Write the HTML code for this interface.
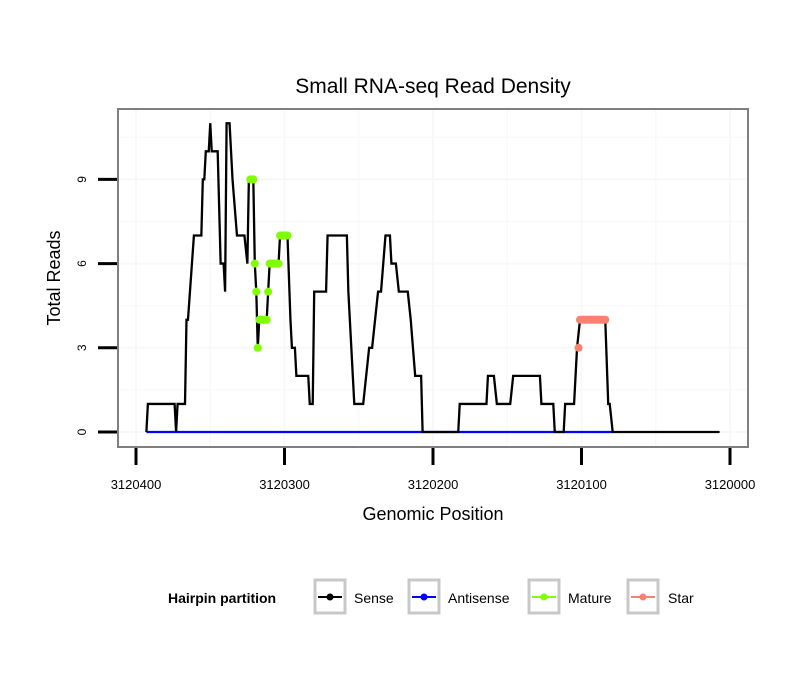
<!DOCTYPE html>
<html><head><meta charset="utf-8"><style>
body{margin:0;background:#fff;font-family:"Liberation Sans",sans-serif;}
</style></head><body>
<svg id="chart" width="810" height="690" xmlns="http://www.w3.org/2000/svg" font-family="Liberation Sans, sans-serif">
<rect width="810" height="690" fill="#fff"/>
<text x="433" y="93" font-size="21" text-anchor="middle">Small RNA-seq Read Density</text>
<g id="grid"></g>
<g id="series"></g>
<rect x="118" y="109" width="630" height="338" fill="none" stroke="#7f7f7f" stroke-width="2"/>
<g id="axes"></g>
<text x="433" y="520" font-size="18" text-anchor="middle">Genomic Position</text>
<text transform="translate(60,278) rotate(-90)" font-size="18" text-anchor="middle">Total Reads</text>
<g>
<text x="168" y="603" font-size="14" font-weight="bold">Hairpin partition</text>
<g><rect x="315" y="580" width="30" height="33" fill="#fff" stroke="#c8c8c8" stroke-width="3"/><line x1="318" y1="597" x2="342" y2="597" stroke="#000" stroke-width="2"/><circle cx="330" cy="597" r="3.5" fill="#000"/><text x="354" y="603" font-size="14">Sense</text></g>
<g><rect x="409" y="580" width="30" height="33" fill="#fff" stroke="#c8c8c8" stroke-width="3"/><line x1="412" y1="597" x2="436" y2="597" stroke="#0000ff" stroke-width="2"/><circle cx="424" cy="597" r="3.5" fill="#0000ff"/><text x="448" y="603" font-size="14">Antisense</text></g>
<g><rect x="529" y="580" width="30" height="33" fill="#fff" stroke="#c8c8c8" stroke-width="3"/><line x1="532" y1="597" x2="556" y2="597" stroke="#7fff00" stroke-width="2"/><circle cx="544" cy="597" r="3.5" fill="#7fff00"/><text x="568" y="603" font-size="14">Mature</text></g>
<g><rect x="628" y="580" width="30" height="33" fill="#fff" stroke="#c8c8c8" stroke-width="3"/><line x1="631" y1="597" x2="655" y2="597" stroke="#fa8072" stroke-width="2"/><circle cx="643" cy="597" r="3.5" fill="#fa8072"/><text x="668" y="603" font-size="14">Star</text></g>
</g>
</svg>
<script>
const xTicks=[3120400,3120300,3120200,3120100,3120000];
const yTicks=[0,3,6,9];
const senseVerts=[[3120393,0],[3120392,1],[3120374,1],[3120373,0],[3120372,1],[3120367,1],[3120366,4],[3120365,4],[3120361,7],[3120356,7],[3120355,9],[3120354,9],[3120353,10],[3120351,10],[3120350,11],[3120349,10],[3120345,10],[3120343,6],[3120341,6],[3120340,5],[3120339,11],[3120337,11],[3120335,9],[3120332,7],[3120327,7],[3120325,6],[3120324,9],[3120321,9],[3120320,6],[3120319,5],[3120318,3],[3120317,4],[3120312,4],[3120311,5],[3120310,6],[3120304,6],[3120303,7],[3120298,7],[3120296,4],[3120295,3],[3120293,3],[3120292,2],[3120284,2],[3120283,1],[3120281,1],[3120280,5],[3120272,5],[3120271,7],[3120258,7],[3120257,5],[3120256,4],[3120253,1],[3120247,1],[3120245,2],[3120243,3],[3120241,3],[3120237,5],[3120235,5],[3120232,7],[3120229,7],[3120228,6],[3120225,6],[3120223,5],[3120217,5],[3120215,4],[3120212,2],[3120208,2],[3120207,0],[3120183,0],[3120182,1],[3120164,1],[3120163,2],[3120159,2],[3120157,1],[3120148,1],[3120146,2],[3120128,2],[3120127,1],[3120119,1],[3120118,0],[3120112,0],[3120111,1],[3120105,1],[3120103,3],[3120101,4],[3120084,4],[3120082,1],[3120081,1],[3120079,0],[3120007,0]];
const antisenseVerts=[[3120393,0],[3120079,0]];
const maturePos=[3120323,3120322,3120321,3120320,3120319,3120318,3120317,3120316,3120315,3120314,3120313,3120312,3120311,3120310,3120309,3120308,3120307,3120306,3120305,3120304,3120303,3120302,3120301,3120300,3120299,3120298];
const matureVal=[9,9,9,6,5,3,4,4,4,4,4,4,5,6,6,6,6,6,6,6,7,7,7,7,7,7];
const starPos=[3120102,3120101,3120100,3120099,3120098,3120097,3120096,3120095,3120094,3120093,3120092,3120091,3120090,3120089,3120088,3120087,3120086,3120085,3120084];
const starVal=[3,4,4,4,4,4,4,4,4,4,4,4,4,4,4,4,4,4,4];

const NS='http://www.w3.org/2000/svg';
const X=p=>136+(3120400-p)*1.485;
const Y=v=>432-v*28.07;
function mk(tag,attrs,parent){const e=document.createElementNS(NS,tag);for(const k in attrs)e.setAttribute(k,attrs[k]);parent.appendChild(e);return e;}
const grid=document.getElementById('grid'),series=document.getElementById('series'),axes=document.getElementById('axes');
mk('rect',{x:118,y:109,width:630,height:338,fill:'#fff'},grid);
for(let v=-1.5;v<=12;v+=1.5){const y=Y(v);if(y<110||y>446)continue;const l=mk('line',{x1:119,x2:747,y1:y,y2:y,stroke:'#f8f8f8','stroke-width':(v%3===0)?2:1.2},grid);

}
for(let p=3120450;p>=3119950;p-=50){const x=X(p);if(x<119||x>747)continue;const l=mk('line',{x1:x,x2:x,y1:110,y2:446,stroke:'#f8f8f8','stroke-width':(p%100===0)?2:1.2},grid);

}
yTicks.forEach(v=>{const y=Y(v);const t=mk('line',{x1:98,x2:117,y1:y,y2:y,stroke:'#000','stroke-width':3},axes);


const tx=mk('text',{transform:`translate(86,${y}) rotate(-90)`,'font-size':12,'text-anchor':'middle'},axes);tx.textContent=v;

});
xTicks.forEach(p=>{const x=X(p);const t=mk('line',{x1:x,x2:x,y1:448,y2:465,stroke:'#000','stroke-width':3},axes);


const tx=mk('text',{x:x,y:489,'font-size':13,'text-anchor':'middle'},axes);tx.textContent=p;

});
function line(verts,color,name){const pl=mk('polyline',{points:verts.map(d=>X(d[0])+','+Y(d[1])).join(' '),fill:'none',stroke:color,'stroke-width':2.3,'stroke-linejoin':'miter'},series);

}
line(antisenseVerts,'#0000ff','antisense-line');
line(senseVerts,'#000','sense-line');
function pts(pos,val,color,name){pos.forEach((p,i)=>{const c=mk('circle',{cx:X(p),cy:Y(val[i]),r:4,fill:color},series);

});}
pts(maturePos,matureVal,'#7fff00','mature-point');
pts(starPos,starVal,'#fa8072','star-point');
</script>
</body></html>
